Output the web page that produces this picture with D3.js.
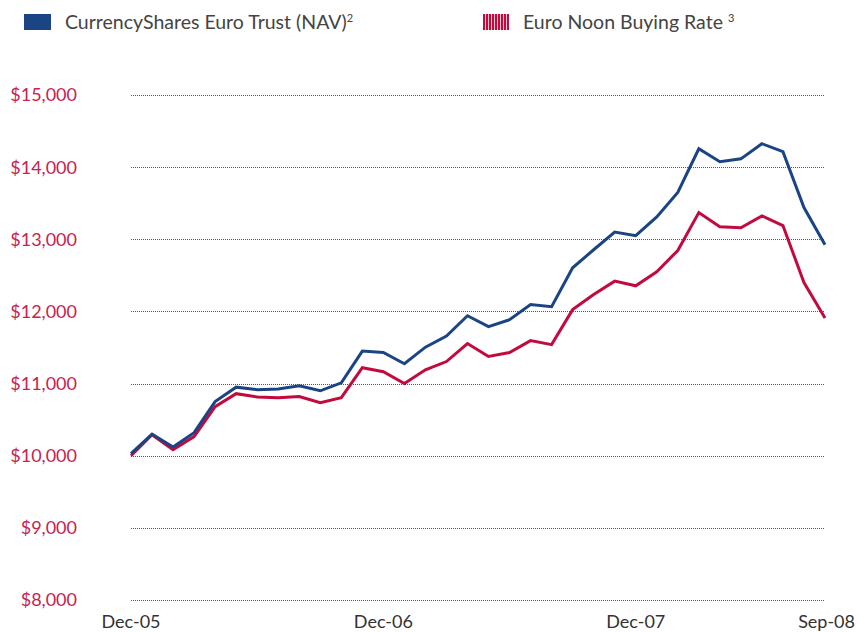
<!DOCTYPE html>
<html>
<head>
<meta charset="utf-8">
<script src="https://cdn.jsdelivr.net/npm/d3@7"></script>
<style>
  body { margin: 0; background: #fff; }
  svg { display: block; font-family: Lato, "Open Sans", sans-serif; }
  .grid line { stroke: #555; stroke-dasharray: 1,1; shape-rendering: crispEdges; }
  .grid path { display: none; }
</style>
</head>
<body>
<div class="chart"></div>
<script>
var w = 859;
var h = 632;

// month index 0 = Dec-05 ... 33 = Sep-08
var tickIdx = [0, 12, 24, 33];
var tickLabels = ["Dec-05", "Dec-06", "Dec-07", "Sep-08"];
var yTicks = [8000, 9000, 10000, 11000, 12000, 13000, 14000, 15000];

var navValues = [10030, 10300, 10120, 10320, 10750, 10950, 10915, 10925, 10970, 10900,
  11010, 11450, 11430, 11275, 11505, 11660, 11940, 11790, 11885, 12095,
  12065, 12605, 12855, 13100, 13050, 13310, 13650, 14255, 14075, 14115,
  14325, 14215, 13440, 12925];
var noonValues = [10000, 10290, 10085, 10265, 10680, 10860, 10815, 10805, 10820, 10735,
  10805, 11220, 11165, 11000, 11190, 11305, 11555, 11375, 11430, 11595,
  11540, 12025, 12235, 12420, 12355, 12550, 12845, 13370, 13175, 13160,
  13325, 13190, 12400, 11910];

var blue = "#1a4483";
var red = "#c30a3e";

var svg = d3.select(".chart").append("svg")
  .attr("width", w)
  .attr("height", h);

// stripe pattern for the red legend swatch
var pat = svg.append("defs").append("pattern")
  .attr("id", "stripes")
  .attr("patternUnits", "userSpaceOnUse")
  .attr("width", 3).attr("height", 4);
pat.append("rect").attr("width", 3).attr("height", 4).attr("fill", red);
pat.append("rect").attr("x", 2).attr("width", 1).attr("height", 4).attr("fill", "#f4c6d2");

var xScale = d3.scaleLinear().domain([0, 33]).range([131, 825]);
var yScale = d3.scaleLinear().domain([8000, 15000]).range([600, 95]);

// gridlines
svg.append("g")
  .attr("class", "grid")
  .attr("transform", "translate(131,0)")
  .call(d3.axisLeft(yScale).tickValues(yTicks).tickSize(-(825 - 131)).tickFormat(""));

// y labels
svg.append("g").selectAll("text")
  .data(yTicks)
  .enter()
  .append("text")
  .attr("x", 77)
  .attr("y", function(d) { return yScale(d); })
  .attr("dy", "0.36em")
  .attr("text-anchor", "end")
  .attr("fill", "#c8224f")
  .style("font-size", "18px")
  .text(function(d) { return "$" + d3.format(",")(d); });

// x labels
svg.append("g").selectAll("text")
  .data(tickIdx)
  .enter()
  .append("text")
  .attr("x", function(d, i) { return i == tickIdx.length - 1 ? w - 4 : xScale(d); })
  .attr("y", 628)
  .attr("text-anchor", function(d, i) { return i == tickIdx.length - 1 ? "end" : "middle"; })
  .attr("fill", "#333")
  .style("font-size", "18px")
  .text(function(d, i) { return tickLabels[i]; });

var line = d3.line()
  .x(function(d, i) { return xScale(i); })
  .y(function(d) { return yScale(d); });

svg.append("path")
  .datum(noonValues)
  .attr("fill", "none")
  .attr("stroke", red)
  .attr("stroke-width", 3)
  .attr("stroke-linejoin", "miter")
  .attr("d", line);

svg.append("path")
  .datum(navValues)
  .attr("fill", "none")
  .attr("stroke", blue)
  .attr("stroke-width", 3)
  .attr("stroke-linejoin", "miter")
  .attr("d", line);

// legend
svg.append("rect").attr("x", 24).attr("y", 14).attr("width", 27).attr("height", 16).attr("fill", blue);
var t1 = svg.append("text").attr("x", 65).attr("y", 29).attr("fill", "#444").style("font-size", "19.5px");
t1.append("tspan").text("CurrencyShares Euro Trust (NAV)");
t1.append("tspan").attr("dy", -7).style("font-size", "11px").text("2");

svg.append("rect").attr("x", 483).attr("y", 14).attr("width", 26).attr("height", 16).attr("fill", "url(#stripes)");
var t2 = svg.append("text").attr("x", 523).attr("y", 29).attr("fill", "#444").style("font-size", "19.5px");
t2.append("tspan").text("Euro Noon Buying Rate ");
t2.append("tspan").attr("dy", -7).style("font-size", "11px").text("3");
</script>
</body>
</html>
